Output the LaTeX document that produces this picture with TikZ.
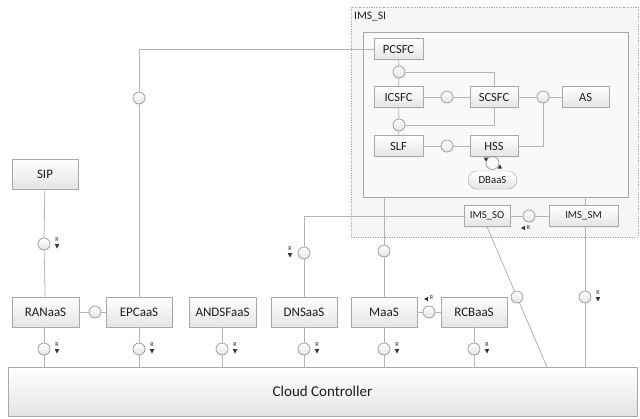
\documentclass[tikz,border=0pt]{standalone}
\usepackage{fontspec}
\setmainfont{Carlito}
\usetikzlibrary{shadows,calc}
\definecolor{lncol}{HTML}{B4B4B4}
\definecolor{bdcol}{HTML}{A8A8A8}
\definecolor{botcol}{HTML}{E4E4E4}
\definecolor{txtcol}{HTML}{1E1E1E}
\definecolor{sicol}{HTML}{F6F6F6}
\definecolor{innercol}{HTML}{F9F9F9}
\tikzset{
  shd/.style={drop shadow={opacity=0.07,shadow xshift=1pt,shadow yshift=-1pt}},
  box/.style={draw=bdcol, top color=white, bottom color=botcol, text=txtcol, shd,
    font=\fontsize{13}{13}\selectfont, minimum width=#1, minimum height=30, inner sep=0pt},
  sbox/.style={draw=bdcol, top color=white, bottom color=botcol, text=txtcol, shd,
    font=\fontsize{12.5}{12.5}\selectfont, minimum width=#1, minimum height=21, inner sep=0pt},
  tbox/.style={draw=bdcol, top color=white, bottom color=botcol, text=txtcol, shd,
    font=\fontsize{10.8}{10.8}\selectfont, minimum width=#1, minimum height=21, inner sep=0pt},
  cir/.style={circle, draw=bdcol!90!black, line width=0.7pt, top color=white, bottom color=botcol, minimum size=12, inner sep=0pt},
  lnk/.style={draw=lncol, line width=0.8pt},
  rlab/.style={font=\fontsize{6}{6}\selectfont, text=txtcol, inner sep=0pt},
  tri/.style={fill=txtcol!90},
}
\newcommand{\RDn}[3]{% name, x, y (circle center)
  \node[rlab] (#1) at ($(#2,#3)+(13,-4.5)$) {R};
  \fill[tri] ($(#2,#3)+(10.7,0)$) -- ($(#2,#3)+(15.3,0)$) -- ($(#2,#3)+(13,4.5)$) -- cycle;}
\begin{document}
\begin{tikzpicture}[x=1pt,y=-1pt]
\useasboundingbox (0,0) rectangle (640,418);
% containers
\node[draw=bdcol, dashed, dash pattern=on 1.2pt off 1.2pt, fill=sicol, minimum width=287, minimum height=230, inner sep=0pt] (si) at (494.5,122) {};
\node[text=txtcol, font=\fontsize{11.5}{11.5}\selectfont, anchor=west, inner sep=0pt] (silab) at (354,17) {IMS\_SI};
\node[draw=bdcol, line width=0.8pt, fill=innercol, minimum width=265, minimum height=165, inner sep=0pt] (inner) at (495.5,114.5) {};
% cloud controller
\node[draw=bdcol, top color=white, bottom color=botcol, shd, text=txtcol, font=\fontsize{15}{15}\selectfont, minimum width=629, minimum height=49, inner sep=0pt] (cc) at (322.5,391.5) {Cloud Controller};
% IMS_SI inner nodes
\node[sbox=49] (pcscf) at (398.5,49) {PCSFC};
\node[sbox=49] (icscf) at (398.5,97) {ICSFC};
\node[sbox=48] (scscf) at (494,97) {SCSFC};
\node[sbox=47] (as) at (585.5,97) {AS};
\node[sbox=49] (slf) at (398.5,146) {SLF};
\node[sbox=48] (hss) at (494,146) {HSS};
\node[draw=bdcol, top color=white, bottom color=botcol, rounded corners=9, shd, text=txtcol, font=\fontsize{10.8}{10.8}\selectfont, minimum width=49, minimum height=18, inner sep=0pt] (dbaas) at (492.5,180) {DBaaS};
\node[cir] (c_pi) at (399,72) {};
\node[cir] (c_is) at (447,97) {};
\node[cir] (c_sa) at (543,97) {};
\node[cir] (c_ib) at (399,125) {};
\node[cir] (c_sh) at (447,146) {};
% IMS_SO / SM
\node[tbox=46] (so) at (487,216) {IMS\_SO};
\node[tbox=69] (sm) at (583.5,216) {IMS\_SM};
\node[cir] (c_sosm) at (529,216) {};
% bottom row
\node[box=66] (sip) at (45,174) {SIP};
\node[box=67] (ran) at (45.5,312) {RANaaS};
\node[box=66] (epc) at (139,312) {EPCaaS};
\node[box=67] (andsf) at (222.5,312) {ANDSFaaS};
\node[box=66] (dns) at (304,312) {DNSaaS};
\node[box=66] (maas) at (384,312) {MaaS};
\node[box=66] (rcb) at (474,312) {RCBaaS};
\node[cir] (c_sip) at (44,244) {};
\node[cir] (c_re) at (95,312) {};
\node[cir] (c_epc) at (139,98) {};
\node[cir] (c_dns) at (304,253) {};
\node[cir] (c_maas) at (384,251) {};
\node[cir] (c_mr) at (429,312) {};
\node[cir] (c_diag) at (517,297) {};
\node[cir] (c_sm) at (585,297) {};
\node[cir] (b1) at (44,349) {};
\node[cir] (b2) at (139,349) {};
\node[cir] (b3) at (222,349) {};
\node[cir] (b4) at (304,349) {};
\node[cir] (b5) at (384,349) {};
\node[cir] (b6) at (474,349) {};
\coordinate (ccd) at (547,367);
\coordinate (dnscorner) at (304,216);
% connectors inside IMS_SI
\draw[lnk] (pcscf) -- (c_pi) -- (icscf) -- (c_ib) -- (slf);
\draw[lnk] (c_pi) -| (scscf.north);
\draw[lnk] (c_ib) -| (scscf.south);
\draw[lnk] (icscf) -- (c_is) -- (scscf) -- (c_sa) -- (as);
\draw[lnk] (slf) -- (c_sh) -- (hss);
\draw[lnk] (hss.east) -| (c_sa.south);
% loop HSS <-> DBaaS
\draw[draw=txtcol!45, line width=0.7pt] (492.5,163) circle (6.5);
\fill[tri] (483.5,157.5) -- (488,157.5) -- (486,161.5) -- cycle;
\fill[tri] (497.5,168.5) -- (502,168.5) -- (500,164.5) -- cycle;
% outer connectors
\draw[lnk] (sip) -- (c_sip) -- (ran);
\draw[lnk] (ran) -- (c_re) -- (epc);
\draw[lnk] (epc) -- (c_epc);
\draw[lnk] (c_epc) |- (pcscf.west);
\draw[lnk] (dns) -- (c_dns) -- (dnscorner) -- (so.west);
\draw[lnk] (so) -- (c_sosm) -- (sm);
\draw[lnk] (inner.south -| maas) -- (c_maas) -- (maas);
\draw[lnk] (maas) -- (c_mr) -- (rcb);
\draw[lnk] (inner.south -| c_sm) -- (c_sm |- sm.north);
\draw[lnk] (c_sm |- sm.south) -- (c_sm) -- (c_sm |- cc.north);
\draw[lnk] (so.south) -- (c_diag) -- (ccd);
\foreach \n/\m in {ran/b1,epc/b2,andsf/b3,dns/b4,maas/b5,rcb/b6}{
  \draw[lnk] (\n.south -| \m) -- (\m) -- (\m |- cc.north);
}
% R markers
\RDn{r1}{44}{349}
\RDn{r2}{139}{349}
\RDn{r3}{222}{349}
\RDn{r4}{304}{349}
\RDn{r5}{384}{349}
\RDn{r6}{474}{349}
\RDn{r7}{44}{244}
\RDn{r8}{585}{297}
\RDn{r9}{277}{253}
% left-pointing markers
\fill[tri] (525,225.8) -- (525,230.2) -- (521,228) -- cycle;
\node[rlab] (r10) at (528.5,227.5) {R};
\fill[tri] (428,296.8) -- (428,301.2) -- (424,299) -- cycle;
\node[rlab] (r11) at (431.5,298) {R};
\end{tikzpicture}
\end{document}
